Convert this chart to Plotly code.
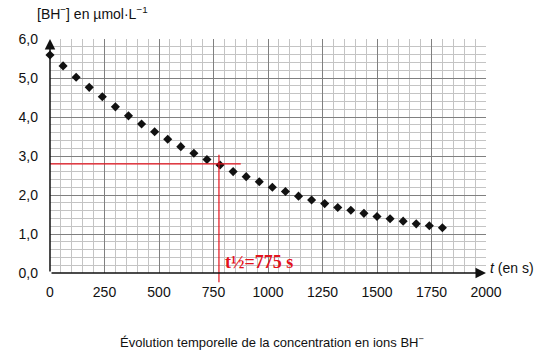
import plotly.graph_objects as go

# Data
t_s = [0, 60, 120, 180, 240, 300, 360, 420, 480, 540, 600, 660, 720, 780, 840,
       900, 960, 1020, 1080, 1140, 1200, 1260, 1320, 1380, 1440, 1500, 1560,
       1620, 1680, 1740, 1800]
conc = [5.59, 5.31, 5.02, 4.76, 4.52, 4.26, 4.03, 3.82, 3.62, 3.43, 3.24, 3.07,
        2.91, 2.77, 2.60, 2.47, 2.34, 2.20, 2.09, 1.97, 1.87, 1.78, 1.68, 1.61,
        1.53, 1.45, 1.39, 1.33, 1.26, 1.21, 1.16]
x_ticks = [0, 250, 500, 750, 1000, 1250, 1500, 1750, 2000]
x_ticktext = ["0", "250", "500", "750", "1000", "1250", "1500", "1750", "2000"]
y_ticks = [0, 1, 2, 3, 4, 5, 6]
y_ticktext = ["0,0", "1,0", "2,0", "3,0", "4,0", "5,0", "6,0"]
t_half = 775
c_half = 2.8

RED = "#e3121c"
FONT = "Liberation Sans, Arial, sans-serif"

fig = go.Figure()
fig.add_trace(go.Scatter(
    x=t_s, y=conc, mode="markers",
    marker=dict(symbol="diamond", size=7, color="#111111"),
    cliponaxis=False, showlegend=False, hoverinfo="skip"))

axis_common = dict(
    showgrid=True, gridcolor="#808080", gridwidth=1,
    zeroline=False, ticks="", showline=False, automargin=False,
    tickfont=dict(family=FONT, size=14, color="#111111"),
)
fig.update_xaxes(range=[0, 2000], tickvals=x_ticks, ticktext=x_ticktext,
                 minor=dict(dtick=50, showgrid=True, gridcolor="#c4c4c4", gridwidth=1),
                 ticklabelstandoff=9, **axis_common)
fig.update_yaxes(range=[0, 6], tickvals=y_ticks, ticktext=y_ticktext,
                 minor=dict(dtick=0.2, showgrid=True, gridcolor="#c4c4c4", gridwidth=1),
                 ticklabelstandoff=11, **axis_common)

# red construction lines
fig.add_shape(type="line", xref="x", yref="y", x0=0, x1=875, y0=c_half, y1=c_half,
              line=dict(color=RED, width=1.2))
fig.add_shape(type="line", xref="x", yref="paper", x0=t_half, x1=t_half, y0=-0.04, y1=0.505,
              line=dict(color=RED, width=1.2))

# axes with arrows
fig.add_annotation(x=2000, y=0, ax=0, ay=0, xref="x", yref="y", axref="x", ayref="y",
                   showarrow=True, arrowhead=2, arrowsize=1.4, arrowwidth=1.5,
                   arrowcolor="#111111", text="")
fig.add_annotation(x=0, y=6.0, ax=0, ay=0, xref="x", yref="y", axref="x", ayref="y",
                   showarrow=True, arrowhead=2, arrowsize=1.4, arrowwidth=1.5,
                   arrowcolor="#111111", text="")

fig.add_annotation(x=794, y=0.28, xref="x", yref="y", xanchor="left", yanchor="middle",
                   text="<b>t½=775 s</b>", showarrow=False,
                   font=dict(family="Liberation Serif, Times New Roman, serif", size=18, color=RED))

fig.add_annotation(x=1.005, y=0.13, xref="paper", yref="y", xanchor="left", yanchor="middle",
                   text="<i>t</i> (en s)", showarrow=False,
                   font=dict(family=FONT, size=14, color="#111111"))
fig.add_annotation(x=-0.035, y=1.111, xref="paper", yref="paper", xanchor="left", yanchor="middle",
                   text="[BH<sup>−</sup>] en µmol·L<sup>−1</sup>", showarrow=False,
                   font=dict(family=FONT, size=14, color="#111111"))
fig.add_annotation(x=0.51, y=-0.295, xref="paper", yref="paper", xanchor="center", yanchor="middle",
                   text="Évolution temporelle de la concentration en ions BH<sup>−</sup>",
                   showarrow=False, font=dict(family=FONT, size=13, color="#111111"))

fig.update_layout(
    width=543, height=356,
    margin=dict(l=50, r=57, t=39, b=83),
    paper_bgcolor="white", plot_bgcolor="white",
    font=dict(family=FONT, size=14, color="#111111"),
)
fig.write_html("out.html", config={"displayModeBar": False},
               post_script="document.body.style.margin='0';")
